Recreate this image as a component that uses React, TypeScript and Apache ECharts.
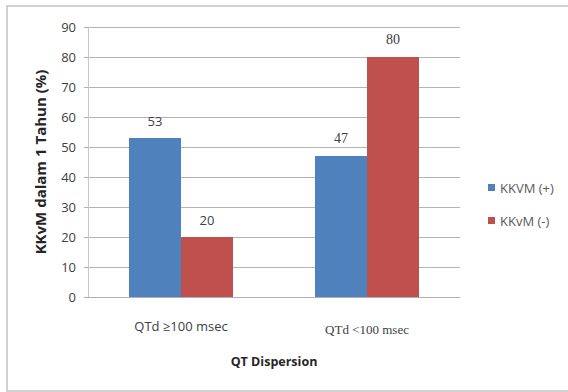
import React, { useEffect, useRef } from "react";
import * as echarts from "echarts";

const categories = ["QTd ≥100 msec", "QTd <100 msec"];
const seriesNames = ["KKVM (+)", "KKvM (-)"];
const positiveValues = [53, 47];
const negativeValues = [20, 80];
const yTicks = { min: 0, max: 90, interval: 10 };

const SANS = "'Open Sans', 'Noto Sans', sans-serif";
const SERIF = "'Liberation Serif', 'DejaVu Serif', serif";

export default function App() {
  const ref = useRef<HTMLDivElement>(null);

  useEffect(() => {
    if (!ref.current) return;
    const chart = echarts.init(ref.current, null, { renderer: "svg" });

    const mkData = (vals: number[]) =>
      vals.map((v, i) => ({
        value: v,
        label: { fontFamily: i === 1 ? SERIF : SANS, fontSize: i === 1 ? 14 : 13 },
      }));

    chart.setOption({
      animation: false,
      backgroundColor: "#ffffff",
      graphic: [
        {
          type: "rect",
          shape: { x: 7, y: 6, width: 570, height: 385 },
          style: { fill: "none", stroke: "#c4c4c4", lineWidth: 1.5 },
          silent: true,
        },
      ],
      grid: { left: 88, right: 108, top: 27, bottom: 95 },
      legend: {
        orient: "vertical",
        left: 483,
        top: 176,
        itemWidth: 7,
        itemHeight: 7,
        itemGap: 20,
        icon: "rect",
        textStyle: { fontFamily: SANS, fontSize: 13, color: "#595959" },
        data: seriesNames,
      },
      xAxis: {
        type: "category",
        data: categories,
        axisLine: { lineStyle: { color: "#b0b0b0" } },
        axisTick: { show: false },
        axisLabel: {
          margin: 22,
          fontSize: 13,
          color: "#404040",
          fontFamily: SANS,
          formatter: (v: string, i: number) => (i === 1 ? `{s|${v}}` : v),
          rich: {
            s: { fontFamily: SERIF, fontSize: 13, color: "#404040", padding: [4, 0, 0, 0] },
          },
        },
        name: "QT Dispersion",
        nameLocation: "middle",
        nameGap: 58,
        nameTextStyle: { fontFamily: SANS, fontSize: 12.5, fontWeight: "bold", color: "#262626" },
      },
      yAxis: {
        type: "value",
        min: yTicks.min,
        max: yTicks.max,
        interval: yTicks.interval,
        axisLine: { show: true, lineStyle: { color: "#c8c8c8" } },
        axisTick: { show: true, length: 4, lineStyle: { color: "#b0b0b0" } },
        axisLabel: { margin: 12, fontSize: 13, color: "#404040", fontFamily: SANS },
        splitLine: { lineStyle: { color: "#b3b3b3" } },
        name: "KKvM dalam 1 Tahun (%)",
        nameLocation: "middle",
        nameGap: 41,
        nameTextStyle: { fontFamily: SANS, fontSize: 15, fontWeight: "bold", color: "#262626" },
      },
      series: [
        {
          name: seriesNames[0],
          type: "bar",
          barWidth: 52,
          barGap: "0%",
          itemStyle: { color: "#4F81BD" },
          label: { show: true, position: "top", distance: 11, color: "#404040" },
          data: mkData(positiveValues),
        },
        {
          name: seriesNames[1],
          type: "bar",
          barWidth: 52,
          barGap: "0%",
          itemStyle: { color: "#C0504D" },
          label: { show: true, position: "top", distance: 11, color: "#404040" },
          data: mkData(negativeValues),
        },
      ],
    });

    return () => chart.dispose();
  }, []);

  return (
    <div
      ref={ref}
      style={{ position: "absolute", left: 0, top: 0, width: 568, height: 392, background: "#fff" }}
    />
  );
}
